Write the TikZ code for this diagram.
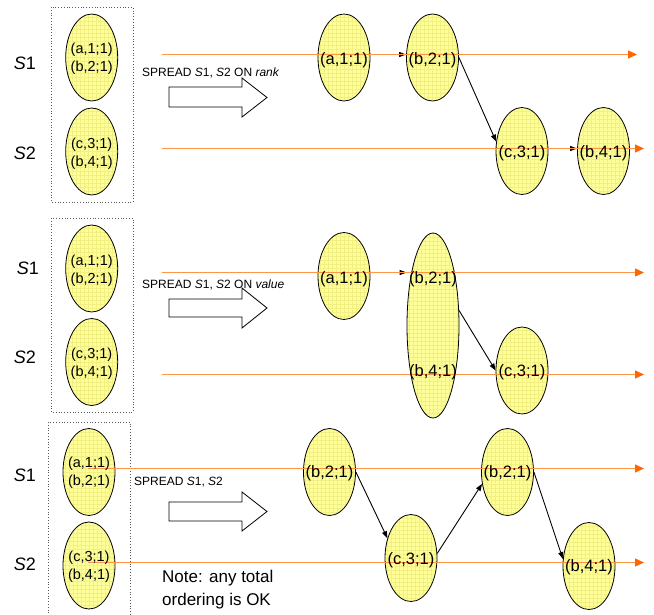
\documentclass[tikz,border=0pt]{standalone}
\usepackage{fontspec}
\setmainfont{Liberation Sans}
\usetikzlibrary{arrows.meta,shapes.geometric}
\definecolor{elfill}{RGB}{255,255,153}
\definecolor{elgrid}{RGB}{242,240,130}
\definecolor{orl}{RGB}{255,102,0}
\definecolor{orlight}{RGB}{255,150,70}
\tikzset{
 el/.style={ellipse, draw=black, line width=0.8pt, fill=elfill, minimum width=52pt, minimum height=87pt, inner sep=0pt,
   path picture={\draw[elgrid, line width=0.3pt] (path picture bounding box.south west) grid[step=4pt] (path picture bounding box.north east);}},
 lab/.style={font=\fontsize{16.5}{18}\selectfont, inner sep=0pt},
 labl/.style={font=\fontsize{14.5}{18}\selectfont, inner sep=0pt, align=center},
 sl/.style={font=\fontsize{18}{20}\selectfont, inner sep=0pt},
 tl/.style={orlight, line width=1.3pt, -{Triangle[length=9pt,width=8pt,color=orl]}},
 ar/.style={black, line width=0.9pt, -{Triangle[length=7pt,width=5pt]}},
 dbox/.style={draw=gray!70!black, dotted, line width=0.8pt},
 blk/.style={draw=black, fill=white, line width=0.8pt},
 sp/.style={font=\fontsize{12}{14}\selectfont, inner sep=0pt, anchor=west},
}
\begin{document}
\begin{tikzpicture}[x=1pt,y=-1pt]
\useasboundingbox (0,0) rectangle (654,614);
\clip (0,0) rectangle (654,614);
% ---------- dotted boxes
\draw[dbox] (51,7) rectangle (133,202);
\draw[dbox] (51,218) rectangle (133,412);
\draw[dbox] (48,422) rectangle (130,630);
% ---------- left ellipses
\node[el] (p1l1) at (91.7,57.5) {};
\node[el] (p1l2) at (91.7,151.5) {};
\node[el] (p2l1) at (91.7,268.5) {};
\node[el] (p2l2) at (91.7,362) {};
\node[el] (p3l1) at (89,472) {};
\node[el] (p3l2) at (89,565.5) {};
% ---------- right ellipses panel 1
\node[el] (a1) at (344,57.5) {};
\node[el] (b1) at (432.5,57.5) {};
\node[el] (c1) at (522,151) {};
\node[el] (d1) at (603.5,151) {};
% panel 2
\node[el] (a2) at (344,276) {};
\node[el, minimum height=185pt] (b2) at (433,325.5) {};
\node[el] (c2) at (522,370.5) {};
% panel 3
\node[el] (a3) at (329.5,472) {};
\node[el] (b3) at (411,558) {};
\node[el] (c3) at (507.5,472) {};
\node[el] (d3) at (589,566) {};
% ---------- block arrows
\draw[blk] (169,87) -- (242,87) -- (242,78) -- (267,97.5) -- (242,117) -- (242,107) -- (169,107) -- cycle;
\draw[blk] (169,299) -- (242,299) -- (242,288) -- (267,308) -- (242,328) -- (242,317) -- (169,317) -- cycle;
\draw[blk] (169,502) -- (242,502) -- (242,492) -- (267,511.5) -- (242,531) -- (242,521) -- (169,521) -- cycle;
% ---------- black arrows
\draw[ar] ([yshift=3pt]a1.east) -- ([yshift=3pt]a1.east -| b1.west);
\draw[ar] (b1.east) -- (c1.160);
\draw[ar] ([yshift=2.5pt]c1.east) -- ([yshift=2.5pt]c1.east -| d1.west);
\draw[ar] ([yshift=3.5pt]a2.east) -- ([yshift=3.5pt]a2.east -| b2.west);
\draw[ar] (b2.30) -- (c2.west);
\draw[ar] (a3.east) -- (b3.140);
\draw[ar] (b3.10) -- (c3.205);
\draw[ar] (c3.east) -- (d3.165);
% ---------- orange timelines
\coordinate (t1s) at (162,54.5);   \coordinate (t1e) at (637,54.5);
\coordinate (t2s) at (162,148.5);  \coordinate (t2e) at (644,148.5);
\coordinate (t3s) at (162,272.5);  \coordinate (t3e) at (644,272.5);
\coordinate (t4s) at (162,374.5);  \coordinate (t4e) at (644,374.5);
\coordinate (t5s) at (88,468.5);   \coordinate (t5e) at (644,468.5);
\coordinate (t6s) at (88,562.5);   \coordinate (t6e) at (644,562.5);
\draw[tl] (t1s) -- (t1e);
\draw[tl] (t2s) -- (t2e);
\draw[tl] (t3s) -- (t3e);
\draw[tl] (t4s) -- (t4e);
\draw[tl] (t5s) -- (t5e);
\draw[tl] (t6s) -- (t6e);
% ---------- labels
\node[labl] (p1l1t) at (91.7,59) {(a,1;1)\\(b,2;1)};
\node[labl] (p1l2t) at (91.7,154) {(c,3;1)\\(b,4;1)};
\node[labl] (p2l1t) at (91.7,270.5) {(a,1;1)\\(b,2;1)};
\node[labl] (p2l2t) at (91.7,364) {(c,3;1)\\(b,4;1)};
\node[labl] (p3l1t) at (89,473) {(a,1;1)\\(b,2;1)};
\node[labl] (p3l2t) at (89,567) {(c,3;1)\\(b,4;1)};
\node[lab] (a1t) at (344,60) {(a,1;1)};
\node[lab] (b1t) at (432.5,60) {(b,2;1)};
\node[lab] (c1t) at (522,153) {(c,3;1)};
\node[lab] (d1t) at (603.5,153) {(b,4;1)};
\node[lab] (a2t) at (344,279) {(a,1;1)};
\node[lab] (b2t) at (433,279) {(b,2;1)};
\node[lab] (b2u) at (433,372) {(b,4;1)};
\node[lab] (c2t) at (522,372) {(c,3;1)};
\node[lab] (a3t) at (329.5,473) {(b,2;1)};
\node[lab] (b3t) at (411,560) {(c,3;1)};
\node[lab] (c3t) at (507.5,473) {(b,2;1)};
\node[lab] (d3t) at (589,567) {(b,4;1)};
% S labels
\node[sl] (s11) at (25,63) {\textit{S}1};
\node[sl] (s12) at (25,153) {\textit{S}2};
\node[sl] (s21) at (28,268) {\textit{S}1};
\node[sl] (s22) at (25,357) {\textit{S}2};
\node[sl] (s31) at (25,475) {\textit{S}1};
\node[sl] (s32) at (25,564) {\textit{S}2};
% spread texts
\node[sp] (sp1) at (142,73) {SPREAD \textit{S}1, \textit{S}2 ON \textit{rank}};
\node[sp] (sp2) at (142,285) {SPREAD \textit{S}1, \textit{S}2 ON \textit{value}};
\node[sp] (sp3) at (134,482) {SPREAD \textit{S}1, \textit{S}2};
\node[font=\fontsize{17}{23}\selectfont, inner sep=0pt, align=left, anchor=north west] (note) at (162,570) {Note: any total\\ordering is OK};
\end{tikzpicture}
\end{document}
